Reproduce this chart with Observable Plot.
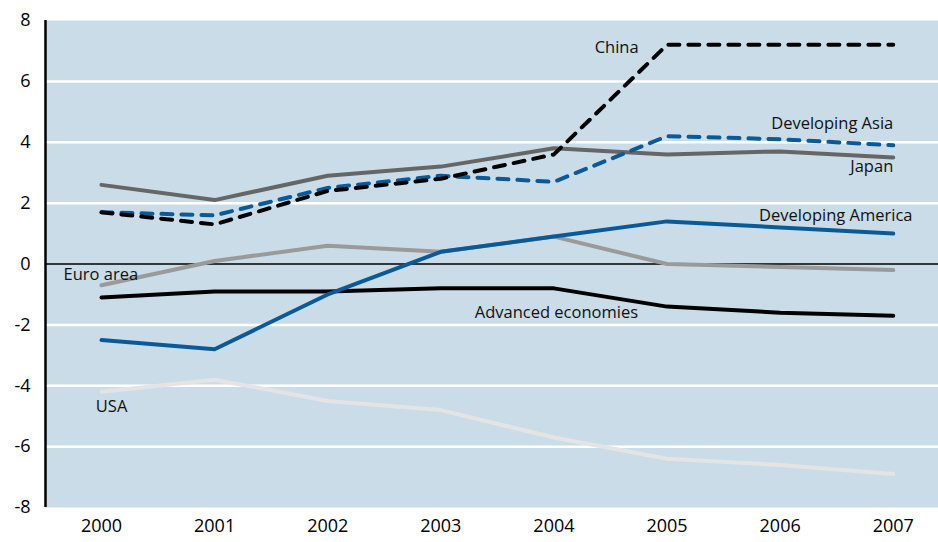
<!DOCTYPE html>
<html>
<head>
<meta charset="utf-8">
<script src="https://cdn.jsdelivr.net/npm/d3@7"></script>
<script src="https://cdn.jsdelivr.net/npm/@observablehq/plot@0.6"></script>
<style>
  html, body { margin: 0; padding: 0; background: #fff; }
  #chart svg { display: block; }
</style>
</head>
<body>
<div id="chart"></div>
<script>
const years = [2000, 2001, 2002, 2003, 2004, 2005, 2006, 2007];
const yTicks = [-8, -6, -4, -2, 0, 2, 4, 6, 8];
const gridTicks = [-6, -4, -2, 2, 4, 6];

const china        = [1.7, 1.3, 2.4, 2.8, 3.6, 7.2, 7.2, 7.2];
const devAsia      = [1.7, 1.6, 2.5, 2.9, 2.7, 4.2, 4.1, 3.9];
const japan        = [2.6, 2.1, 2.9, 3.2, 3.8, 3.6, 3.7, 3.5];
const devAmerica   = [-2.5, -2.8, -1.0, 0.4, 0.9, 1.4, 1.2, 1.0];
const euroArea     = [-0.7, 0.1, 0.6, 0.4, 0.9, 0.0, -0.1, -0.2];
const advanced     = [-1.1, -0.9, -0.9, -0.8, -0.8, -1.4, -1.6, -1.7];
const usa          = [-4.2, -3.8, -4.5, -4.8, -5.7, -6.4, -6.6, -6.9];

const seriesNames = ["USA", "Euro area", "Advanced economies", "Developing America", "Japan", "Developing Asia", "China"];
const seriesValues = [usa, euroArea, advanced, devAmerica, japan, devAsia, china];
const seriesColors = ["#e4e4e4", "#9a9a9a", "#000000", "#0b5a98", "#666666", "#0b5a98", "#000000"];
const seriesDashed = [false, false, false, false, false, true, true];

const labelTexts = ["China", "Developing Asia", "Japan", "Developing America", "Euro area", "Advanced economies", "USA"];
const labelX = [2004.36, 2007.0, 2007.0, 2007.17, 1999.664, 2003.30, 1999.95];
const labelY = [7.1, 4.6, 3.2, 1.6, -0.35, -1.6, -4.7];
const labelAnchor = ["start", "end", "end", "end", "start", "start", "start"];

const lineMarks = seriesNames.map((name, i) => {
  const rows = years.map((yr, j) => ({year: yr, value: seriesValues[i][j]}));
  return Plot.line(rows, {
    x: "year", y: "value",
    stroke: seriesColors[i],
    strokeWidth: 4,
    strokeDasharray: seriesDashed[i] ? "11,9" : null,
    strokeLinecap: "round",
    strokeLinejoin: "round"
  });
});

const labels = labelTexts.map((t, i) => ({text: t, x: labelX[i], y: labelY[i], anchor: labelAnchor[i]}));

const chart = Plot.plot({
  width: 938,
  height: 542,
  marginLeft: 45,
  marginRight: 0,
  marginTop: 20,
  marginBottom: 35,
  style: {fontFamily: "'Open Sans', 'Noto Sans', sans-serif", fontSize: "18px", color: "#000", background: "#fff"},
  x: {domain: [1999.505, 2007.4], label: null},
  y: {domain: [-8, 8], label: null},
  marks: [
    Plot.frame({fill: "#cadce8", stroke: null}),
    Plot.ruleY(gridTicks, {stroke: "#ffffff", strokeWidth: 2.5}),
    Plot.ruleY([0], {stroke: "#000", strokeWidth: 1.5}),
    Plot.ruleX([1999.505], {stroke: "#000", strokeWidth: 2.5}),
    ...lineMarks,
    Plot.text(labels.filter(d => d.anchor === "start"), {x: "x", y: "y", text: "text", textAnchor: "start", fontSize: 16.5, fill: "#111"}),
    Plot.text(labels.filter(d => d.anchor === "end"), {x: "x", y: "y", text: "text", textAnchor: "end", fontSize: 16.5, fill: "#111"}),
    Plot.axisX({ticks: years, tickFormat: d => String(d), tickSize: 0, tickPadding: 12, fontSize: 18}),
    Plot.axisY({ticks: yTicks, tickFormat: d => String(d), tickSize: 0, tickPadding: 15, fontSize: 18})
  ]
});
document.getElementById("chart").appendChild(chart);
</script>
</body>
</html>
